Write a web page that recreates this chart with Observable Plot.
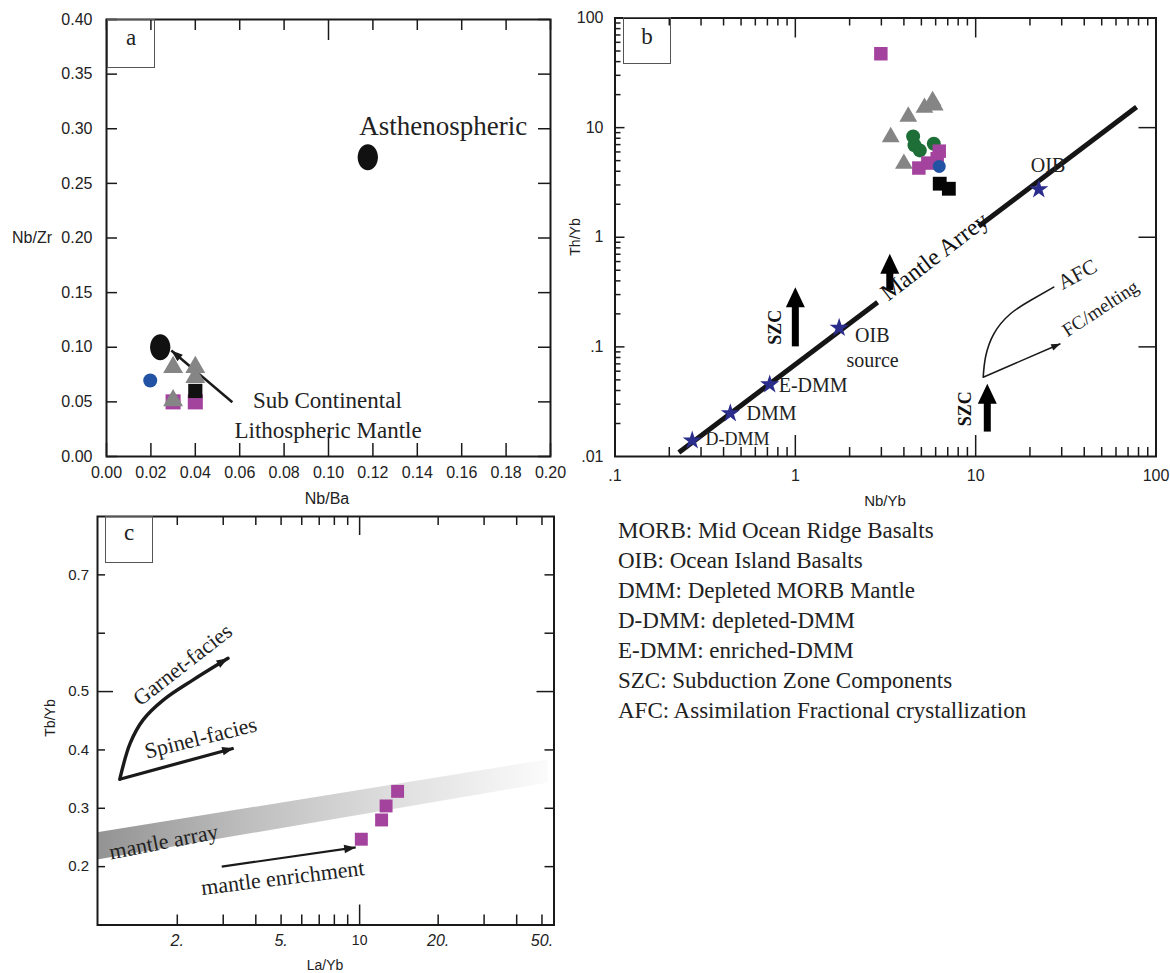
<!DOCTYPE html>
<html><head><meta charset="utf-8">
<script src="https://cdn.jsdelivr.net/npm/d3@7"></script>
<script src="https://cdn.jsdelivr.net/npm/@observablehq/plot@0.6"></script>
<style>
html,body{margin:0;padding:0;background:#fff;}
#root{position:relative;width:1170px;height:973px;overflow:hidden;background:#fff;}
.lbl{position:absolute;font-family:"Liberation Sans",Arial,sans-serif;color:#222;white-space:nowrap;transform:translate(-50%,-50%);line-height:1;}
.rot{transform:translate(-50%,-50%) rotate(-90deg);}
.box{position:absolute;border:1px solid #555;box-sizing:border-box;}
.plab{position:absolute;font-family:"Liberation Serif",serif;font-size:23px;color:#222;transform:translate(-50%,-50%);line-height:1;}
.legend{position:absolute;left:618px;top:516px;font-family:"Liberation Serif",serif;font-size:23px;line-height:30px;color:#222;white-space:nowrap;}
</style></head>
<body><div id="root">
<svg width="0" height="0" style="position:absolute"><defs>
<linearGradient id="bandGrad" x1="0" x2="1" y1="0" y2="0">
<stop offset="0" stop-color="#939393"/><stop offset="0.35" stop-color="#c0c0c0"/><stop offset="0.7" stop-color="#e2e2e2"/><stop offset="1" stop-color="#fbfbfb"/>
</linearGradient></defs></svg>
</div>
<script>
// ================= DATA =================
// Panel a
const aXTicks = [0, 0.02, 0.04, 0.06, 0.08, 0.10, 0.12, 0.14, 0.16, 0.18, 0.20];
const aYTicks = [0, 0.05, 0.10, 0.15, 0.20, 0.25, 0.30, 0.35, 0.40];
const aEndNbBa = [0.1177, 0.0242];
const aEndNbZr = [0.274, 0.100];
const aMagentaNbBa = [0.030, 0.040];
const aMagentaNbZr = [0.050, 0.050];
const aBlackNbBa = [0.040];
const aBlackNbZr = [0.060];
const aBlueNbBa = [0.0197];
const aBlueNbZr = [0.0696];
const aGrayNbBa = [0.030, 0.040, 0.040, 0.030];
const aGrayNbZr = [0.0818, 0.0818, 0.0726, 0.0513];
const aArrowNbBa = [0.0567, 0.0292];
const aArrowNbZr = [0.0497, 0.097];
const aLabels = ["Asthenospheric", "Sub Continental", "Lithospheric Mantle"];
const aLabelNbBa = [0.1517, 0.0995, 0.0998];
const aLabelNbZr = [0.3023, 0.0513, 0.0238];

// Panel b
const bXTicks = [0.1, 1, 10, 100];
const bXTickLabels = [".1", "1", "10", "100"];
const bYTicks = [0.01, 0.1, 1, 10, 100];
const bYTickLabels = [".01", ".1", "1", "10", "100"];
const bXMinor = [0.2,0.3,0.4,0.5,0.6,0.7,0.8,0.9,2,3,4,5,6,7,8,9,20,30,40,50,60,70,80,90];
const bXMajor = [1, 10];
const bYMinor = [0.02,0.03,0.04,0.05,0.06,0.07,0.08,0.09,0.2,0.3,0.4,0.5,0.6,0.7,0.8,0.9,2,3,4,5,6,7,8,9,20,30,40,50,60,70,80,90];
const bYMajor = [0.1, 1, 10];
const bStarNames = ["D-DMM", "DMM", "E-DMM", "OIB source", "OIB"];
const bStarNbYb = [0.268, 0.436, 0.721, 1.75, 22.4];
const bStarThYb = [0.014, 0.0248, 0.0454, 0.149, 2.73];
const bArrayX1 = [0.226, 10.4];
const bArrayY1 = [0.0109, 1.26];
const bArrayX2 = [2.86, 78];
const bArrayY2 = [0.255, 15.4];
const bGrayNbYb = [3.38, 4.23, 5.2, 5.77, 5.93, 4.0];
const bGrayThYb = [8.19, 12.6, 15.2, 17.5, 16.0, 4.69];
const bGreenNbYb = [4.5, 4.58, 4.9, 5.86];
const bGreenThYb = [8.3, 6.9, 6.2, 7.13];
const bMagentaNbYb = [2.98, 4.84, 5.43, 6.12, 6.28];
const bMagentaThYb = [47.2, 4.28, 4.75, 5.2, 6.1];
const bBlueNbYb = [6.28];
const bBlueThYb = [4.43];
const bBlackNbYb = [6.32, 7.1];
const bBlackThYb = [3.08, 2.77];
const bSzcNbYb = [1.0, 3.34, 11.6];
const bSzcTail = [0.1, 0.327, 0.0167];
const bSzcTip = [0.35, 0.706, 0.046];
const bAfcNbYb = [11.01, 11.34, 12.61, 15.6, 20.1, 27.1];
const bAfcThYb = [0.0529, 0.0805, 0.1316, 0.2005, 0.265, 0.351];
const bFcNbYb = [11.01, 29.5];
const bFcThYb = [0.0529, 0.1067];
const bStarLabels = ["D-DMM", "DMM", "E-DMM", "OIB", "source", "OIB"];
const bStarLabelNbYb = [0.478, 0.738, 1.256, 2.67, 2.68, 25.2];
const bStarLabelThYb = [0.01445, 0.0247, 0.0445, 0.127, 0.0752, 4.52];
const bSzcLabelNbYb = [0.776, 8.78];
const bSzcLabelThYb = [0.151, 0.0272];

// Panel c
const cXTicks = [2, 5, 10, 20, 50];
const cXTickLabels = ["2.", "5.", "10", "20.", "50."];
const cYTicks = [0.2, 0.3, 0.4, 0.5, 0.7];
const cXMinor = [2,3,4,5,6,7,8,9,20,30,40,50];
const cXMajor = [10];
const cYMinor = [0.2, 0.3, 0.4, 0.6, 0.7];
const cYMajor = [0.5];
const cLaYb = [10.15, 12.14, 12.63, 13.98];
const cTbYb = [0.247, 0.28, 0.304, 0.329];
const cBandLaYb = [0.99, 52.8];
const cBandLow = [0.2115, 0.343];
const cBandHigh = [0.258, 0.383];
const cGarnetLaYb = [1.204, 1.32, 1.479, 1.771, 2.30, 3.13];
const cGarnetTbYb = [0.3498, 0.4116, 0.4515, 0.4858, 0.520, 0.557];
const cSpinelLaYb = [1.204, 3.29];
const cSpinelTbYb = [0.3498, 0.403];
const cEnrichLaYb = [2.96, 9.66];
const cEnrichTbYb = [0.2, 0.233];
const cLabels = ["Garnet-facies", "Spinel-facies", "mantle array", "mantle enrichment"];
const cLabelLaYb = [2.098, 2.459, 1.775, 5.07];
const cLabelTbYb = [0.5458, 0.4206, 0.2423, 0.1806];

const legendLines = [
  "MORB: Mid Ocean Ridge Basalts",
  "OIB: Ocean Island Basalts",
  "DMM: Depleted MORB Mantle",
  "D-DMM: depleted-DMM",
  "E-DMM: enriched-DMM",
  "SZC: Subduction Zone Components",
  "AFC: Assimilation Fractional crystallization"
];

// ================= HELPERS =================
const P = (xs, ys) => xs.map((x, i) => ({x, y: ys[i]}));
const T = (ts, xs, ys) => ts.map((t, i) => ({t, x: xs[i], y: ys[i]}));
const serif = "Liberation Serif, Times New Roman, serif";
const sans = "Liberation Sans, Arial, sans-serif";
const ink = "#1a1a1a";
const cMagenta = "#a4439e", cGray = "#858585", cGreen = "#1d6f37", cBlue = "#2152a3", cStar = "#2b2d8c";

const ellipse = {draw(ctx, size) {
  const s = Math.sqrt(size / Math.PI), rx = 0.78 * s, ry = s, k = 0.5523;
  ctx.moveTo(rx, 0);
  ctx.bezierCurveTo(rx, k * ry, k * rx, ry, 0, ry);
  ctx.bezierCurveTo(-k * rx, ry, -rx, k * ry, -rx, 0);
  ctx.bezierCurveTo(-rx, -k * ry, -k * rx, -ry, 0, -ry);
  ctx.bezierCurveTo(k * rx, -ry, rx, -k * ry, rx, 0);
  ctx.closePath();
}};
const headThin = {draw(ctx, size) {
  const s = Math.sqrt(size / Math.PI);
  ctx.moveTo(0, 0); ctx.lineTo(0.42 * s, 1.15 * s); ctx.lineTo(-0.42 * s, 1.15 * s); ctx.closePath();
}};
const headThick = {draw(ctx, size) {
  const s = Math.sqrt(size / Math.PI);
  ctx.moveTo(0, 0); ctx.lineTo(0.95 * s, 2 * s); ctx.lineTo(-0.95 * s, 2 * s); ctx.closePath();
}};

function edge(values, side, len, iw, ih) {
  const o = {stroke: ink, strokeWidth: 1.5};
  if (side === "bottom") return Plot.ruleX(values, {x: d => d, insetTop: ih - len, ...o});
  if (side === "top") return Plot.ruleX(values, {x: d => d, insetBottom: ih - len, ...o});
  if (side === "left") return Plot.ruleY(values, {y: d => d, insetRight: iw - len, ...o});
  return Plot.ruleY(values, {y: d => d, insetLeft: iw - len, ...o});
}
const root = document.getElementById("root");
function place(svg, left, top) {
  svg.style.position = "absolute";
  svg.style.left = left + "px";
  svg.style.top = top + "px";
  svg.style.background = "transparent";
  svg.style.maxWidth = "none";
  svg.style.overflow = "visible";
  root.appendChild(svg);
}

// ================= PANEL A =================
{
  const W = 560, H = 510, ml = 106, mr = 10, mt = 19, mb = 54;
  const iw = W - ml - mr, ih = H - mt - mb;
  const f2 = d3.format(".2f");
  const svg = Plot.plot({
    width: W, height: H, marginLeft: ml, marginRight: mr, marginTop: mt, marginBottom: mb,
    style: {fontFamily: sans, fontSize: "16px", color: "#222", background: "transparent"},
    x: {domain: [0, 0.2], ticks: aXTicks, tickFormat: f2, tickSize: 0, tickPadding: 10, label: null},
    y: {domain: [0, 0.4], ticks: aYTicks, tickFormat: f2, tickSize: 0, tickPadding: 14, label: null},
    marks: [
      edge(aXTicks.filter(d => d !== 0.10), "bottom", 13, iw, ih),
      edge([0.10], "bottom", 23, iw, ih),
      edge(aXTicks.filter(d => d !== 0.10), "top", 11, iw, ih),
      edge([0.10], "top", 21, iw, ih),
      edge(aYTicks, "left", 11, iw, ih),
      edge(aYTicks, "right", 12, iw, ih),
      Plot.frame({stroke: ink, strokeWidth: 2}),
      Plot.link([{x1: aArrowNbBa[0], y1: aArrowNbZr[0], x2: aArrowNbBa[1], y2: aArrowNbZr[1]}],
        {x1: "x1", y1: "y1", x2: "x2", y2: "y2", stroke: ink, strokeWidth: 2.5}),
      Plot.dot([{x: aArrowNbBa[1], y: aArrowNbZr[1]}], {x: "x", y: "y", symbol: headThin, r: 10, rotate: -49.7, fill: ink, stroke: "none"}),
      Plot.dot(P(aMagentaNbBa, aMagentaNbZr), {x: "x", y: "y", symbol: "square", r: 8.5, fill: cMagenta, stroke: "none"}),
      Plot.dot(P(aBlackNbBa, aBlackNbZr), {x: "x", y: "y", symbol: "square", r: 8, fill: "#111", stroke: "none"}),
      Plot.dot(P(aGrayNbBa, aGrayNbZr), {x: "x", y: "y", symbol: "triangle", r: 7.4, fill: cGray, stroke: "none"}),
      Plot.dot(P(aBlueNbBa, aBlueNbZr), {x: "x", y: "y", r: 7, fill: cBlue, stroke: "none"}),
      Plot.dot(P(aEndNbBa, aEndNbZr), {x: "x", y: "y", symbol: ellipse, r: 13, fill: "#111", stroke: "none"}),
      Plot.text(T(aLabels.slice(0, 1), aLabelNbBa.slice(0, 1), aLabelNbZr.slice(0, 1)),
        {x: "x", y: "y", text: "t", fontFamily: serif, fontSize: 27, fill: "#222", lineAnchor: "middle"}),
      Plot.text(T(aLabels.slice(1), aLabelNbBa.slice(1), aLabelNbZr.slice(1)),
        {x: "x", y: "y", text: "t", fontFamily: serif, fontSize: 23, fill: "#222", lineAnchor: "middle"})
    ]
  });
  place(svg, 0, 0);
}

// ================= PANEL B =================
{
  const W = 610, H = 510, ml = 54.5, mr = 14.5, mt = 17.5, mb = 54;
  const iw = W - ml - mr, ih = H - mt - mb;
  const svg = Plot.plot({
    width: W, height: H, marginLeft: ml, marginRight: mr, marginTop: mt, marginBottom: mb,
    style: {fontFamily: sans, fontSize: "16px", color: "#222", background: "transparent"},
    x: {type: "log", domain: [0.1, 100], ticks: bXTicks, tickFormat: d => bXTickLabels[bXTicks.indexOf(d)], tickSize: 0, tickPadding: 13, label: null},
    y: {type: "log", domain: [0.01, 100], ticks: bYTicks, tickFormat: d => bYTickLabels[bYTicks.indexOf(d)], tickSize: 0, tickPadding: 11.5, label: null},
    marks: [
      edge(bXMinor, "bottom", 9, iw, ih),
      edge(bXMajor, "bottom", 21, iw, ih),
      edge(bXMinor, "top", 8, iw, ih),
      edge(bXMajor, "top", 20, iw, ih),
      edge(bYMinor, "left", 6, iw, ih),
      edge(bYMajor, "left", 10, iw, ih),
      edge(bYMajor, "right", 17, iw, ih),
      Plot.frame({stroke: ink, strokeWidth: 2}),
      // mantle array
      Plot.link(bArrayX1.map((x, i) => ({x1: x, y1: bArrayY1[i], x2: bArrayX2[i], y2: bArrayY2[i]})),
        {x1: "x1", y1: "y1", x2: "x2", y2: "y2", stroke: "#151515", strokeWidth: 5}),
      // SZC block arrows
      Plot.ruleX(bSzcNbYb.map((x, i) => ({x, tip: bSzcTip[i], tail: bSzcTail[i]})),
        {x: "x", y1: "tip", y2: "tail", insetTop: 16, stroke: "#000", strokeWidth: 7}),
      Plot.dot(bSzcNbYb.map((x, i) => ({x, y: bSzcTip[i]})), {x: "x", y: "y", symbol: headThick, r: 10, fill: "#000", stroke: "none"}),
      // AFC curve and FC/melting arrow
      Plot.line(P(bAfcNbYb, bAfcThYb), {x: "x", y: "y", curve: "natural", stroke: ink, strokeWidth: 1.6}),
      Plot.link([{x1: bFcNbYb[0], y1: bFcThYb[0], x2: bFcNbYb[1], y2: bFcThYb[1]}], {x1: "x1", y1: "y1", x2: "x2", y2: "y2", stroke: ink, strokeWidth: 1.6}),
      Plot.dot([{x: bFcNbYb[1], y: bFcThYb[1]}], {x: "x", y: "y", symbol: headThin, r: 8, rotate: 66.6, fill: ink, stroke: "none"}),
      // stars
      Plot.dot(P(bStarNbYb, bStarThYb), {x: "x", y: "y", symbol: "star", r: 6, fill: cStar, stroke: "none"}),
      // samples
      Plot.dot(P(bGrayNbYb, bGrayThYb), {x: "x", y: "y", symbol: "triangle", r: 6.6, fill: cGray, stroke: "none"}),
      Plot.dot(P(bGreenNbYb, bGreenThYb), {x: "x", y: "y", r: 7, fill: cGreen, stroke: "none"}),
      Plot.dot(P(bMagentaNbYb, bMagentaThYb), {x: "x", y: "y", symbol: "square", r: 7.6, fill: cMagenta, stroke: "none"}),
      Plot.dot(P(bBlueNbYb, bBlueThYb), {x: "x", y: "y", r: 6.5, fill: cBlue, stroke: "none"}),
      Plot.dot(P(bBlackNbYb, bBlackThYb), {x: "x", y: "y", symbol: "square", r: 7.8, fill: "#050505", stroke: "none"}),
      // labels
      Plot.text(T(bStarLabels.slice(0, 1), bStarLabelNbYb.slice(0, 1), bStarLabelThYb.slice(0, 1)),
        {x: "x", y: "y", text: "t", fontFamily: serif, fontSize: 18, fill: "#222", lineAnchor: "middle"}),
      Plot.text(T(bStarLabels.slice(1), bStarLabelNbYb.slice(1), bStarLabelThYb.slice(1)),
        {x: "x", y: "y", text: "t", fontFamily: serif, fontSize: 20, fill: "#222", lineAnchor: "middle"}),
      Plot.text([{t: "Mantle Arrey", x: 5.91, y: 0.668}], {x: "x", y: "y", text: "t", fontFamily: serif, fontSize: 24, rotate: -37.5, fill: "#111", lineAnchor: "middle"}),
      Plot.text([{t: "AFC", x: 36.7, y: 0.458}], {x: "x", y: "y", text: "t", fontFamily: serif, fontSize: 21, rotate: -28, fill: "#222", lineAnchor: "middle"}),
      Plot.text([{t: "FC/melting", x: 49.2, y: 0.224}], {x: "x", y: "y", text: "t", fontFamily: serif, fontSize: 19, rotate: -33, fill: "#222", lineAnchor: "middle"}),
      Plot.text(T(["SZC", "SZC"], bSzcLabelNbYb, bSzcLabelThYb), {x: "x", y: "y", text: "t", fontFamily: serif, fontWeight: "bold", fontSize: 18, rotate: -90, fill: "#111", lineAnchor: "middle"})
    ]
  });
  place(svg, 560, 0);
}

// ================= PANEL C =================
{
  const W = 580, H = 463, ml = 97, mr = 26.5, mt = 6, mb = 48.5;
  const iw = W - ml - mr, ih = H - mt - mb;
  const svg = Plot.plot({
    width: W, height: H, marginLeft: ml, marginRight: mr, marginTop: mt, marginBottom: mb,
    style: {fontFamily: sans, fontSize: "15px", color: "#222", background: "transparent"},
    x: {type: "log", domain: [0.989, 55.6], ticks: cXTicks, tickFormat: d => cXTickLabels[cXTicks.indexOf(d)], tickSize: 0, tickPadding: 10, label: null},
    y: {domain: [0.1, 0.8], ticks: cYTicks, tickFormat: d3.format(".1f"), tickSize: 0, tickPadding: 8.5, label: null},
    marks: [
      Plot.areaY(cBandLaYb.map((x, i) => ({x, lo: cBandLow[i], hi: cBandHigh[i]})), {x: "x", y1: "lo", y2: "hi", fill: "url(#bandGrad)"}),
      edge(cXMinor, "bottom", 10, iw, ih),
      edge(cXMajor, "bottom", 20, iw, ih),
      edge(cXMinor, "top", 9, iw, ih),
      edge(cXMajor, "top", 19, iw, ih),
      edge(cYMinor, "left", 8, iw, ih),
      edge(cYMajor, "left", 16, iw, ih),
      edge(cYMinor, "right", 9, iw, ih),
      edge(cYMajor, "right", 17, iw, ih),
      Plot.frame({stroke: ink, strokeWidth: 2}),
      Plot.line(P(cGarnetLaYb, cGarnetTbYb), {x: "x", y: "y", curve: "catmull-rom", stroke: ink, strokeWidth: 3.4}),
      Plot.dot([{x: cGarnetLaYb[cGarnetLaYb.length - 1], y: cGarnetTbYb[cGarnetTbYb.length - 1]}], {x: "x", y: "y", symbol: headThin, r: 10, rotate: 60, fill: ink, stroke: "none"}),
      Plot.link([{x1: cSpinelLaYb[0], y1: cSpinelTbYb[0], x2: cSpinelLaYb[1], y2: cSpinelTbYb[1]}], {x1: "x1", y1: "y1", x2: "x2", y2: "y2", stroke: ink, strokeWidth: 3.2}),
      Plot.dot([{x: cSpinelLaYb[1], y: cSpinelTbYb[1]}], {x: "x", y: "y", symbol: headThin, r: 10, rotate: 75.1, fill: ink, stroke: "none"}),
      Plot.link([{x1: cEnrichLaYb[0], y1: cEnrichTbYb[0], x2: cEnrichLaYb[1], y2: cEnrichTbYb[1]}], {x1: "x1", y1: "y1", x2: "x2", y2: "y2", stroke: ink, strokeWidth: 2.2}),
      Plot.dot([{x: cEnrichLaYb[1], y: cEnrichTbYb[1]}], {x: "x", y: "y", symbol: headThin, r: 10, rotate: 81.8, fill: ink, stroke: "none"}),
      Plot.dot(P(cLaYb, cTbYb), {x: "x", y: "y", symbol: "square", r: 7.3, fill: cMagenta, stroke: "none"}),
      Plot.text([{t: cLabels[0], x: cLabelLaYb[0], y: cLabelTbYb[0]}], {x: "x", y: "y", text: "t", fontFamily: serif, fontSize: 22, rotate: -38, fill: "#222", lineAnchor: "middle"}),
      Plot.text([{t: cLabels[1], x: cLabelLaYb[1], y: cLabelTbYb[1]}], {x: "x", y: "y", text: "t", fontFamily: serif, fontSize: 22, rotate: -14, fill: "#222", lineAnchor: "middle"}),
      Plot.text([{t: cLabels[2], x: cLabelLaYb[2], y: cLabelTbYb[2]}], {x: "x", y: "y", text: "t", fontFamily: serif, fontSize: 22, rotate: -11, fill: "#222", lineAnchor: "middle"}),
      Plot.text([{t: cLabels[3], x: cLabelLaYb[3], y: cLabelTbYb[3]}], {x: "x", y: "y", text: "t", fontFamily: serif, fontSize: 22, rotate: -7, fill: "#222", lineAnchor: "middle"})
    ]
  });
  // italic decimal-point labels on the La/Yb axis
  svg.querySelectorAll("text").forEach(t => {
    const s = t.textContent;
    if (cXTickLabels.includes(s)) {
      if (s.endsWith(".")) { t.setAttribute("font-style", "italic"); t.style.fontStyle = "italic"; t.style.fontSize = "16px"; }
      else { t.style.fontSize = "14px"; }
    }
  });
  place(svg, 0, 510);
}

// ================= HTML LABELS =================
function addDiv(cls, text, x, y, extra) {
  const d = document.createElement("div");
  d.className = cls;
  d.textContent = text;
  d.style.left = x + "px";
  d.style.top = y + "px";
  if (extra) Object.assign(d.style, extra);
  root.appendChild(d);
  return d;
}
addDiv("lbl", "Nb/Zr", 32, 238, {fontSize: "16px"});
addDiv("lbl", "Nb/Ba", 327, 499, {fontSize: "16px"});
addDiv("lbl rot", "Th/Yb", 575, 237, {fontSize: "14px"});
addDiv("lbl", "Nb/Yb", 885, 500, {fontSize: "15px"});
addDiv("lbl rot", "Tb/Yb", 50, 718, {fontSize: "14px"});
addDiv("lbl", "La/Yb", 325, 965, {fontSize: "14px"});

// panel letter boxes
[[107, 19, 48, 49], [623, 17, 48, 47], [105, 516, 48, 47]].forEach(([l, t, w, h]) => {
  const b = document.createElement("div");
  b.className = "box";
  Object.assign(b.style, {left: l + "px", top: t + "px", width: w + "px", height: h + "px"});
  root.appendChild(b);
});
addDiv("plab", "a", 131, 37);
addDiv("plab", "b", 647, 36);
addDiv("plab", "c", 129, 532);

// legend text
const lg = document.createElement("div");
lg.className = "legend";
legendLines.forEach(s => { const r = document.createElement("div"); r.textContent = s; lg.appendChild(r); });
root.appendChild(lg);
</script>
</body></html>
